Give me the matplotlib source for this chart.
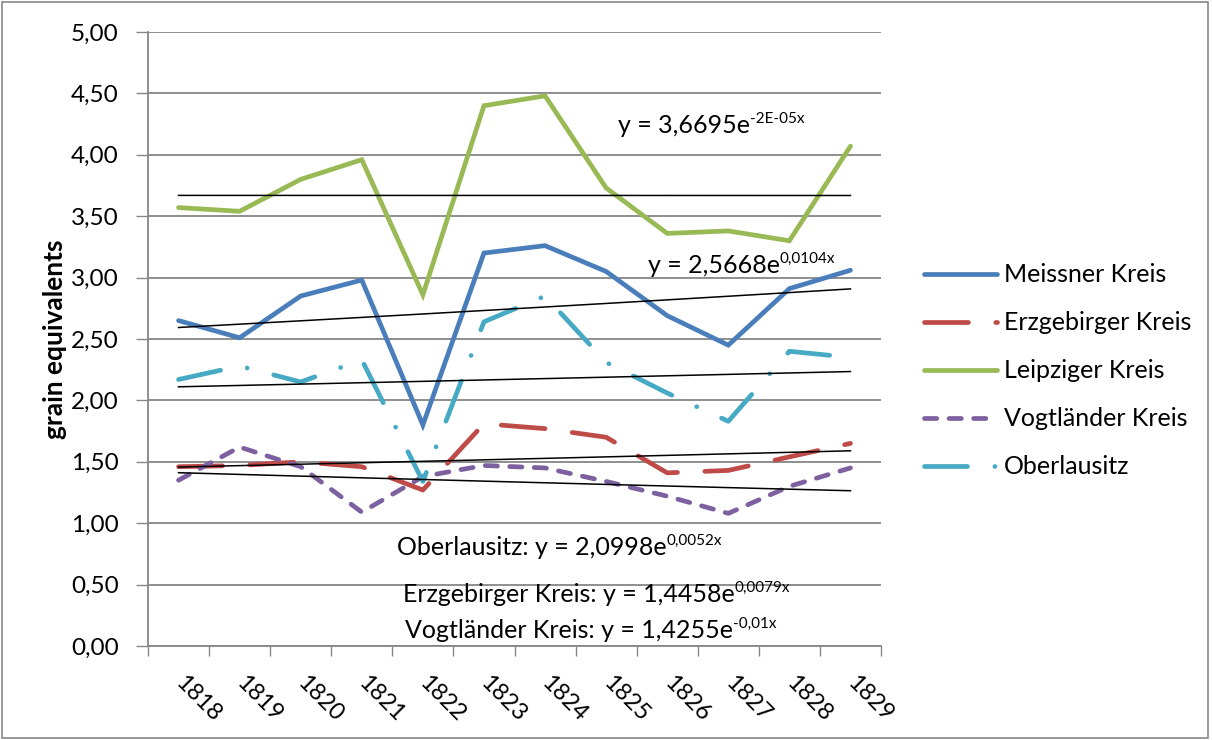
import numpy as np
import matplotlib.pyplot as plt
from matplotlib.patches import Rectangle

plt.rcParams['font.family'] = ['Lato', 'DejaVu Sans']

# values
years = ['1818', '1819', '1820', '1821', '1822', '1823',
         '1824', '1825', '1826', '1827', '1828', '1829']
meissner = [2.65, 2.51, 2.85, 2.98, 1.80, 3.20, 3.26, 3.05, 2.69, 2.45, 2.91, 3.06]
erzgebirger = [1.46, 1.47, 1.50, 1.46, 1.27, 1.81, 1.77, 1.70, 1.41, 1.43, 1.54, 1.65]
leipziger = [3.57, 3.54, 3.80, 3.96, 2.86, 4.40, 4.48, 3.73, 3.36, 3.38, 3.30, 4.07]
vogtlaender = [1.35, 1.62, 1.46, 1.09, 1.38, 1.47, 1.45, 1.34, 1.22, 1.08, 1.30, 1.45]
oberlausitz = [2.17, 2.28, 2.15, 2.33, 1.34, 2.64, 2.85, 2.31, 2.06, 1.83, 2.40, 2.35]

names = ['Meissner Kreis', 'Erzgebirger Kreis', 'Leipziger Kreis',
         'Vogtländer Kreis', 'Oberlausitz']
series = [meissner, erzgebirger, leipziger, vogtlaender, oberlausitz]

# exponential trendlines y = a*e^(b*x), x = 1..12, as printed on the chart
trend_a = [2.5668, 1.4458, 3.6695, 1.4255, 2.0998]
trend_b = [0.0104, 0.0079, -0.00002, -0.01, 0.0052]

eq_main = ['y = 2,5668e', 'Erzgebirger Kreis: y = 1,4458e', 'y = 3,6695e',
           'Vogtländer Kreis: y = 1,4255e', 'Oberlausitz: y = 2,0998e']
eq_sup = ['0,0104x', '0,0079x', '-2E-05x', '-0,01x', '0,0052x']
eq_pos = [(0.682, 0.6075), (0.348, 0.072), (0.641, 0.8355),
          (0.351, 0.013), (0.340, 0.148)]

colors = ['#4A7EBB', '#BE4B48', '#98B954', '#7D60A0', '#46AAC5']
dashes = [None, (9.3, 5.8), None, (2.6, 2.6), (9.1, 5.8, 0.01, 5.8)]

fig = plt.figure(figsize=(12.12, 7.40), dpi=100)
ax = fig.add_axes([148 / 1212, 1 - 646 / 740, 733 / 1212, 614 / 740])

x = np.arange(len(years))
lines = []
for vals, name, col, d in zip(series, names, colors, dashes):
    ln, = ax.plot(x, vals, color=col, lw=3.4, label=name,
                  solid_capstyle='round', dash_capstyle='round',
                  solid_joinstyle='miter')
    if d is not None:
        ln.set_dashes(d)
    lines.append(ln)

for a, b in zip(trend_a, trend_b):
    ax.plot(x, a * np.exp(b * (x + 1)), color='black', lw=1.1, zorder=5)

for txt, sup, pos in zip(eq_main, eq_sup, eq_pos):
    t = ax.text(pos[0], pos[1], txt, transform=ax.transAxes, fontsize=18,
                ha='left', va='baseline')
    ax.annotate(sup, xy=(1, 0), xycoords=t, xytext=(0, 10),
                textcoords='offset points', fontsize=11, ha='left',
                va='baseline')

ax.set_xlim(-0.5, len(years) - 0.5)
ax.set_ylim(0, 5)
yt = np.arange(0, 5.01, 0.5)
ax.set_yticks(yt)
ax.set_yticklabels([('%.2f' % v).replace('.', ',') for v in yt])
ax.set_xticks(np.arange(-0.5, len(years), 1.0))
ax.set_xticklabels([])
ax.set_xticks(x, minor=True)
ax.set_xticklabels(years, minor=True, rotation=-45, ha='left',
                   va='center', rotation_mode='anchor')
ax.tick_params(axis='x', which='major', length=7, color='#868686', width=1)
ax.tick_params(axis='x', which='minor', length=0, pad=24, labelsize=17)
ax.tick_params(axis='y', length=9, color='#868686', width=1, pad=12,
               labelsize=17.5)

ax.grid(axis='y', color='#868686', lw=1.3)
ax.set_axisbelow(True)
for s in ['top', 'right']:
    ax.spines[s].set_visible(False)
for s in ['left', 'bottom']:
    ax.spines[s].set_color('#868686')
    ax.spines[s].set_linewidth(1.3)

ax.set_ylabel('grain equivalents', fontsize=19, fontweight='bold', labelpad=3)

fig.legend(handles=lines, loc='center left',
           bbox_to_anchor=(924 / 1212, 1 - 371 / 740), frameon=False,
           fontsize=18, handlelength=2.9, handletextpad=0.3,
           labelspacing=1.0, borderpad=0, borderaxespad=0)

fig.patches.append(Rectangle((0.002, 0.003), 0.995, 0.994, fill=False,
                             edgecolor='#888888', lw=1.2,
                             transform=fig.transFigure))

fig.savefig('out.png', dpi=100)
